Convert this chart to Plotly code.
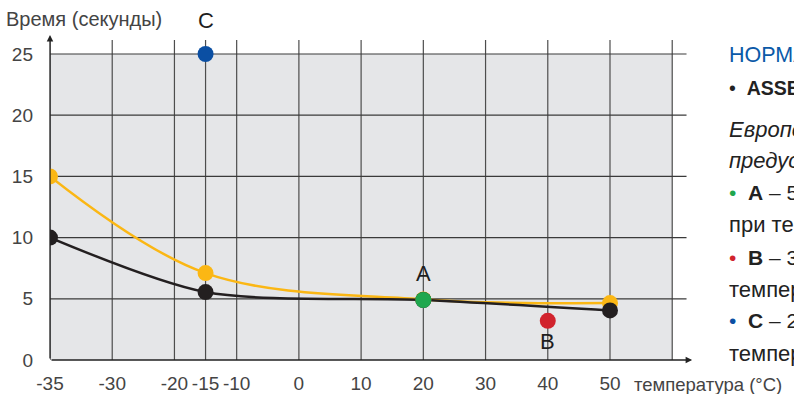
import plotly.graph_objects as go

# temperature ticks as printed on the chart
temp_ticks = [-35, -30, -20, -15, -10, 0, 10, 20, 30, 40, 50]
time_ticks = [0, 5, 10, 15, 20, 25]

# curves (temperature, seconds)
curve_temps = [-35, -15, 20, 50]
yellow_vals = [15.0, 7.1, 4.95, 4.65]
black_vals = [10.0, 5.55, 4.9, 4.05]

# single reference points
point_names = ["A", "B", "C"]
point_temps = [20, 40, -15]
point_vals = [4.9, 3.2, 25.0]
point_colors = ["#1fa74e", "#d1232d", "#0b4fa3"]


def xpos(t):
    # the first interval (-35..-30) is drawn as wide as a 10-degree step
    return -40 if t == -35 else t


FONT = "Liberation Sans, Arial, sans-serif"
PX_X = 560 / 90.0   # pixels per degree
PX_Y = 306 / 25.0   # pixels per second

fig = go.Figure()

fig.add_trace(go.Scatter(x=[xpos(t) for t in curve_temps], y=yellow_vals, mode="lines",
                         line=dict(color="#fbb714", width=2.5, shape="spline", smoothing=1.0),
                         hoverinfo="skip"))
fig.add_trace(go.Scatter(x=[xpos(t) for t in curve_temps], y=black_vals, mode="lines",
                         line=dict(color="#231f20", width=2.5, shape="spline", smoothing=0.8),
                         hoverinfo="skip"))
fig.add_trace(go.Scatter(x=[xpos(t) for t in curve_temps], y=yellow_vals, mode="markers",
                         marker=dict(color="#fbb714", size=16)))
fig.add_trace(go.Scatter(x=[xpos(t) for t in curve_temps], y=black_vals, mode="markers",
                         marker=dict(color="#231f20", size=16)))
fig.add_trace(go.Scatter(x=[xpos(t) for t in point_temps], y=point_vals, mode="markers",
                         marker=dict(color=point_colors, size=16)))

# grey panel and grid
x_lo, x_hi = -40, 60
fig.add_shape(type="rect", x0=x_lo, x1=x_hi, y0=0, y1=25, fillcolor="#e5e6e8",
              line_width=0, layer="below")
for t in temp_ticks + [60]:
    fig.add_shape(type="line", x0=xpos(t), x1=xpos(t), y0=0, y1=26.15,
                  line=dict(color="#4d4d4d", width=1.2), layer="below")
for v in time_ticks[1:]:
    fig.add_shape(type="line", x0=x_lo, x1=62.3, y0=v, y1=v,
                  line=dict(color="#3a3a3a", width=1.2), layer="below")

annotations = [
    # axes with arrows
    dict(x=63.2, y=0, ax=x_lo, ay=0, xref="x", yref="y", axref="x", ayref="y",
         text="", showarrow=True, arrowhead=2, arrowsize=1, arrowwidth=1.3, arrowcolor="#222"),
    dict(x=x_lo, y=26.55, ax=x_lo, ay=0, xref="x", yref="y", axref="x", ayref="y",
         text="", showarrow=True, arrowhead=2, arrowsize=1, arrowwidth=1.3, arrowcolor="#222"),
    dict(x=4, y=19, xanchor="left", yanchor="middle",
         text="Время (секунды)", showarrow=False, font=dict(size=20, color="#444", family=FONT)),
    dict(x=632, y=384, xanchor="left", yanchor="middle",
         text="температура (°C)", showarrow=False, font=dict(size=18.5, color="#444", family=FONT)),
]

# point labels
shifts = {"A": 27, "B": -21, "C": 34}
for n, t, v in zip(point_names, point_temps, point_vals):
    annotations.append(dict(x=xpos(t), y=v, xref="x", yref="y", text=n, showarrow=False,
                            yshift=shifts[n], font=dict(size=22, color="#1e1e1e", family=FONT)))

# side text (cut by the page edge as in the source)
side = [
    (55, "<span style='color:#0b5aa8'>НОРМАТИВЫ</span>", 21.5),
    (88, "•  <b>ASSE 1070</b>", 19.5),
    (129, "<i>Европейский стандарт</i>", 22),
    (160, "<i>предусматривает:</i>", 22),
    (192, "<span style='color:#1fa74e'>•</span>  <b>A</b> – 5 секунд", 21),
    (225, "при температуре 20 °C", 22),
    (257, "<span style='color:#d1232d'>•</span>  <b>B</b> – 3 секунды при", 21),
    (289, "температуре 40 °C", 22),
    (320, "<span style='color:#0b4fa3'>•</span>  <b>C</b> – 25 секунд при", 21),
    (353, "температуре -15 °C", 22),
]
for ypx, txt, sz in side:
    annotations.append(dict(x=727, y=ypx, text=txt, showarrow=False, xanchor="left",
                            yanchor="middle", font=dict(size=sz, color="#222", family=FONT)))

# convert pixel-placed annotations to paper coords
L, R, T, B = 50, 96, 30, 34
W, H = 794, 394
for a in annotations:
    if "xref" not in a:
        a["xref"] = "paper"
        a["yref"] = "paper"
        a["x"] = (a["x"] - L) / (W - L - R)
        a["y"] = (H - B - a["y"]) / (H - T - B)

fig.update_layout(
    width=W, height=H,
    margin=dict(l=L, r=R, t=T, b=B, pad=0, autoexpand=False),
    paper_bgcolor="white", plot_bgcolor="white",
    showlegend=False,
    annotations=annotations,
    xaxis=dict(range=[x_lo, x_lo + (W - L - R) / PX_X], tickmode="array",
               tickvals=[xpos(t) for t in temp_ticks], ticktext=[str(t) for t in temp_ticks],
               showgrid=False, zeroline=False, showline=False, ticks="", automargin=False,
               ticklabelstandoff=10, tickfont=dict(size=19, color="#444", family=FONT)),
    yaxis=dict(range=[0, (H - T - B) / PX_Y], tickmode="array", tickvals=time_ticks,
               showgrid=False, zeroline=False, showline=False, ticks="", automargin=False,
               ticklabelstandoff=16, tickfont=dict(size=19, color="#444", family=FONT)),
)

# page has a default 8px body margin; drop it so the figure sits at the window corner
fig.write_html("out.html", config={"displayModeBar": False},
               post_script="document.body.style.margin='0';")
